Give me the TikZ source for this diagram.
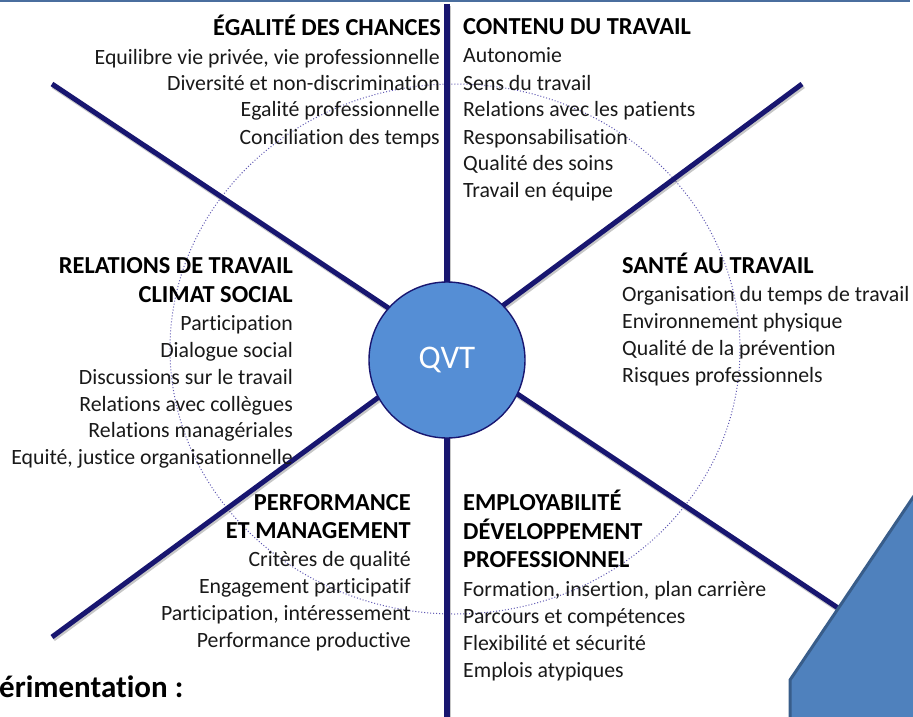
\documentclass[tikz,border=0pt]{standalone}
\usepackage{fontspec}
\setmainfont{Carlito}[Ligatures=NoCommon]
\definecolor{navy}{RGB}{24,22,112}
\definecolor{qvtfill}{RGB}{85,142,213}
\definecolor{shapefill}{RGB}{79,129,189}
\definecolor{shapeline}{RGB}{56,93,138}
\definecolor{topline}{RGB}{74,110,158}
\definecolor{dotcol}{RGB}{95,88,178}
\definecolor{txt}{RGB}{25,25,25}
\begin{document}
\begin{tikzpicture}[x=1pt,y=-1pt,
  spoke/.style={draw=navy,line width=5pt},
  spokeshadow/.style={draw=black,opacity=0.22,line width=5.5pt},
  head/.style={font=\fontsize{24.4}{28}\selectfont\bfseries, inner sep=0pt, text=black},
  item/.style={font=\fontsize{21.8}{26.7}\selectfont, inner sep=0pt, text=txt},
  re/.style={anchor=base east},
  le/.style={anchor=base west}]
\useasboundingbox (0,0) rectangle (913,717);

% top rule
\coordinate (tl) at (0,1.5);
\coordinate (tr) at (910,1.5);
\draw[topline,line width=2pt] (tl) -- (tr);

% dotted ellipse
\coordinate (ec) at (455,349);
\draw[dotcol,line width=1pt,dotted] (ec) ellipse [x radius=285, y radius=265];

% spokes
\coordinate (hub) at (447,347);
\coordinate (ul) at (52,84);
\coordinate (ur) at (802,84);
\coordinate (ll) at (52,637);
\coordinate (lr) at (850,616);
\coordinate (vtop) at (447,4);
\coordinate (vbot) at (447,722);
\foreach \e in {ul,ur,ll,lr}{
  \draw[spokeshadow,transform canvas={shift={(1.2pt,-1.8pt)}}] (\e) -- (hub);
}
\draw[spokeshadow,transform canvas={shift={(1.2pt,-1.8pt)}}] (vtop) -- (vbot);
\foreach \e in {ul,ur,ll,lr}{
  \draw[spoke] (\e) -- (hub);
}
\draw[spoke,line width=5.5pt] (vtop) -- (vbot);

% centre
\node[circle,draw=navy,line width=1.4pt,fill=qvtfill,minimum size=156pt,inner sep=0pt,
      text=white,font=\fontsize{33}{36}\selectfont] (qvt) at (447,360) {QVT};

% bottom-right shape
\coordinate (s1) at (790,725);
\coordinate (s2) at (790,680);
\coordinate (s3) at (918,490);
\coordinate (s4) at (918,725);
\draw[shapeline,fill=shapefill,line width=3pt,line join=miter] (s1) -- (s2) -- (s3) -- (s4) -- cycle;

% Egalite des chances
\node[head,re] (h1) at (441,36) {ÉGALITÉ DES CHANCES};
\node[item,re] (a1) at (440,64) {Equilibre vie privée, vie professionnelle};
\node[item,re] (a2) at (440,91) {Diversité et non-discrimination};
\node[item,re] (a3) at (440,117) {Egalité professionnelle};
\node[item,re] (a4) at (440,144) {Conciliation des temps};

% Contenu du travail
\node[head,le] (h2) at (463,35) {CONTENU DU TRAVAIL};
\node[item,le] (b1) at (463,63) {Autonomie};
\node[item,le] (b2) at (463,90) {Sens du travail};
\node[item,le] (b3) at (463,117) {Relations avec les patients};
\node[item,le] (b4) at (463,144) {Responsabilisation};
\node[item,le] (b5) at (463,170) {Qualité des soins};
\node[item,le] (b6) at (463,197) {Travail en équipe};

% Relations de travail
\node[head,re] (h3) at (293,273) {RELATIONS DE TRAVAIL};
\node[head,re] (h3b) at (293,302) {CLIMAT SOCIAL};
\node[item,re] (c1) at (293,330) {Participation};
\node[item,re] (c2) at (293,357) {Dialogue social};
\node[item,re] (c3) at (293,384) {Discussions sur le travail};
\node[item,re] (c4) at (293,411) {Relations avec collègues};
\node[item,re] (c5) at (293,437) {Relations managériales};
\node[item,re] (c6) at (293,464) {Equité, justice organisationnelle};

% Sante au travail
\node[head,le] (h4) at (622,273) {SANTÉ AU TRAVAIL};
\node[item,le] (d1) at (622,301) {Organisation du temps de travail};
\node[item,le] (d2) at (622,328) {Environnement physique};
\node[item,le] (d3) at (622,355) {Qualité de la prévention};
\node[item,le] (d4) at (622,382) {Risques professionnels};

% Performance et management
\node[head,re] (h5) at (411,510) {PERFORMANCE};
\node[head,re] (h5b) at (411,538) {ET MANAGEMENT};
\node[item,re] (e1) at (411,566) {Critères de qualité};
\node[item,re] (e2) at (411,593) {Engagement participatif};
\node[item,re] (e3) at (411,620) {Participation, intéressement};
\node[item,re] (e4) at (411,647) {Performance productive};

% Employabilite
\node[head,le] (h6) at (463,510) {EMPLOYABILITÉ};
\node[head,le] (h6b) at (463,539) {DÉVELOPPEMENT};
\node[head,le] (h6c) at (463,567) {PROFESSIONNEL};
\node[item,le] (f1) at (463,596) {Formation, insertion, plan carrière};
\node[item,le] (f2) at (463,623) {Parcours et compétences};
\node[item,le] (f3) at (463,650) {Flexibilité et sécurité};
\node[item,le] (f4) at (463,677) {Emplois atypiques};

% cut-off caption
\node[anchor=base west,inner sep=0pt,font=\fontsize{31}{34}\selectfont\bfseries,text=black] (cap) at (-1,697) {érimentation :};
\end{tikzpicture}
\end{document}
